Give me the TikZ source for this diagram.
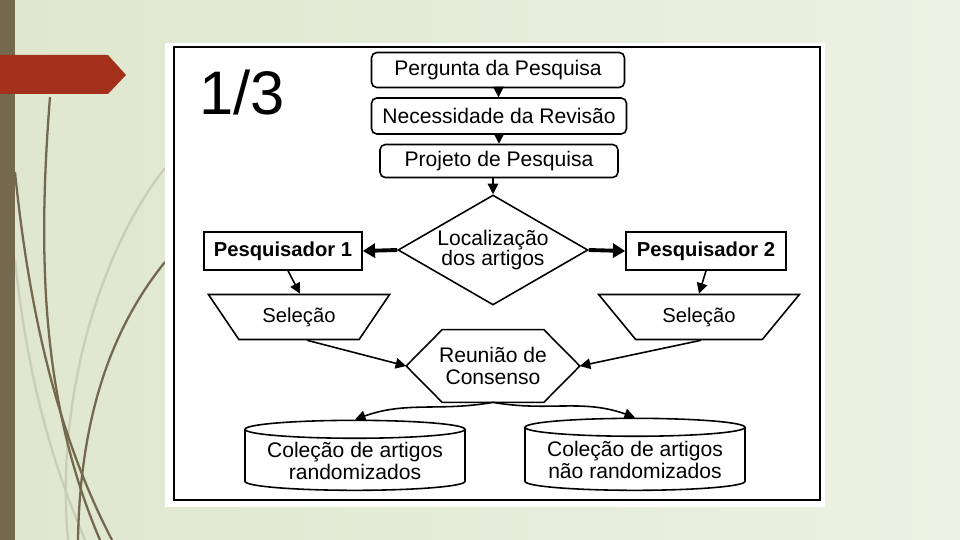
\documentclass[tikz,border=0pt]{standalone}
\usepackage{fontspec}
\setmainfont{Liberation Sans}
\usetikzlibrary{positioning,arrows.meta,shapes.geometric,calc}

\definecolor{bgsage}{HTML}{DFE7CE}
\definecolor{bglight}{HTML}{EDF1E3}
\definecolor{stripe}{HTML}{74694F}
\definecolor{banner}{HTML}{A2301A}
\definecolor{strandlight}{HTML}{C9CEB6}

\begin{document}
\begin{tikzpicture}[
  x=0.02cm, y=-0.02cm,
  rbox/.style={draw, line width=0.9pt, rounded corners=3pt, minimum height=0.7cm, align=center, font=\fontsize{12}{13}\selectfont},
  pbox/.style={draw, line width=0.9pt, minimum height=0.76cm, align=center, font=\fontsize{11.5}{13}\selectfont\bfseries},
  decision/.style={draw, diamond, line width=0.9pt, aspect=1.7, inner sep=0pt, minimum width=3.8cm, minimum height=2.2cm, align=center, font=\fontsize{12}{11.5}\selectfont},
  selbox/.style={draw, trapezium, shape border rotate=180, trapezium stretches=true, line width=0.9pt, minimum height=0.9cm, font=\fontsize{11.5}{13}\selectfont},
  meeting/.style={inner sep=0pt, minimum width=3.46cm, minimum height=1.44cm, align=center, font=\fontsize{12}{12}\selectfont},
  store/.style={draw, cylinder, shape border rotate=90, aspect=0.1, inner sep=1pt, line width=0.9pt, minimum width=4.4cm, minimum height=1.4cm, align=center, font=\fontsize{12}{12}\selectfont},
  flow/.style={-{Triangle[length=6pt,width=6pt]}, line width=0.9pt},
  bigflow/.style={-{Triangle[length=7pt,width=8pt]}, line width=2.2pt},
  strand/.style={stripe, line width=1.3pt},
  faintstrand/.style={strandlight, line width=1.3pt}
]
\useasboundingbox (0,0) rectangle (960,540);

% Slide background
\shade[left color=bgsage, right color=bglight] (0,0) rectangle (960,540);
\begin{scope}
  \clip (0,0) rectangle (960,540);
  \draw[faintstrand] (165,168) .. controls (100,250) and (55,400) .. (68,540);
  \draw[faintstrand] (15,260) .. controls (30,400) and (60,480) .. (85,540);
  \draw[strand] (50,97) .. controls (38,250) and (40,400) .. (100,540);
  \draw[strand] (15,172) .. controls (30,320) and (60,440) .. (112,540);
  \draw[strand] (165,262) .. controls (110,330) and (80,420) .. (78,540);
\end{scope}
\fill[stripe] (0,0) rectangle (15,540);
\fill[banner] (0,55) -- (108,55) -- (126,75) -- (108,94) -- (0,94) -- cycle;

% Panel
\fill[white] (165,43) rectangle (825,507);
\draw[line width=1.2pt] (174,47) rectangle (820,500);
\node[font=\fontsize{35}{35}\selectfont] (pagenum) at (242,93) {1/3};

% Top column
\node[rbox, minimum width=5.06cm] (perg) at (498,70) {Pergunta da Pesquisa};
\node[rbox, minimum width=5.1cm, minimum height=0.72cm] (nec) at (499,116) {Necessidade da Revisão};
\node[rbox, minimum width=4.76cm, minimum height=0.66cm] (proj) at (499,161) {Projeto de Pesquisa};
\node[decision] (loc) at (493,250) {Localização\\dos artigos};

% Researchers
\node[pbox, minimum width=3.16cm] (pq1) at (283,251) {Pesquisador 1};
\node[pbox, minimum width=3.2cm] (pq2) at (706,251) {Pesquisador 2};
\node[selbox, minimum width=3.64cm, trapezium angle=55] (sel1) at (299,317) {Seleção};
\node[selbox, minimum width=4.04cm, trapezium angle=51] (sel2) at (699,317) {Seleção};

% Consensus (hexagon) and collections
\node[meeting] (reun) at (493,366) {Reunião de\\Consenso};
\draw[line width=0.9pt] (reun.west) -- ($(reun.north west)+(36,0)$) -- ($(reun.north east)+(-36,0)$)
  -- (reun.east) -- ($(reun.south east)+(-36,0)$) -- ($(reun.south west)+(36,0)$) -- cycle;
\node[store] (col1) at (355,461) {Coleção de artigos\\randomizados};
\node[store, minimum height=1.44cm] (col2) at (635,460) {Coleção de artigos\\não randomizados};

% Connectors
\draw[flow] (perg) -- (nec);
\draw[flow] (nec) -- (proj);
\draw[flow] (loc.north |- proj.south) -- (loc.north);
\draw[bigflow] (loc.west) -- (pq1.east);
\draw[bigflow] (loc.east) -- (pq2.west);
\draw[flow] ($(pq1.south)+(5,0)$) -- ($(sel1.north)+(1,0)$);
\draw[flow] (pq2.south) -- (sel2.north);
\draw[flow] ($(sel1.south)+(8,0)$) -- (reun.west);
\draw[flow] ($(sel2.south)+(2,0)$) -- (reun.east);
\draw[flow] (reun.south) to[out=190, in=20] (col1.north);
\draw[flow] (reun.south) to[out=-10, in=160] (col2.north);

\end{tikzpicture}
\end{document}
